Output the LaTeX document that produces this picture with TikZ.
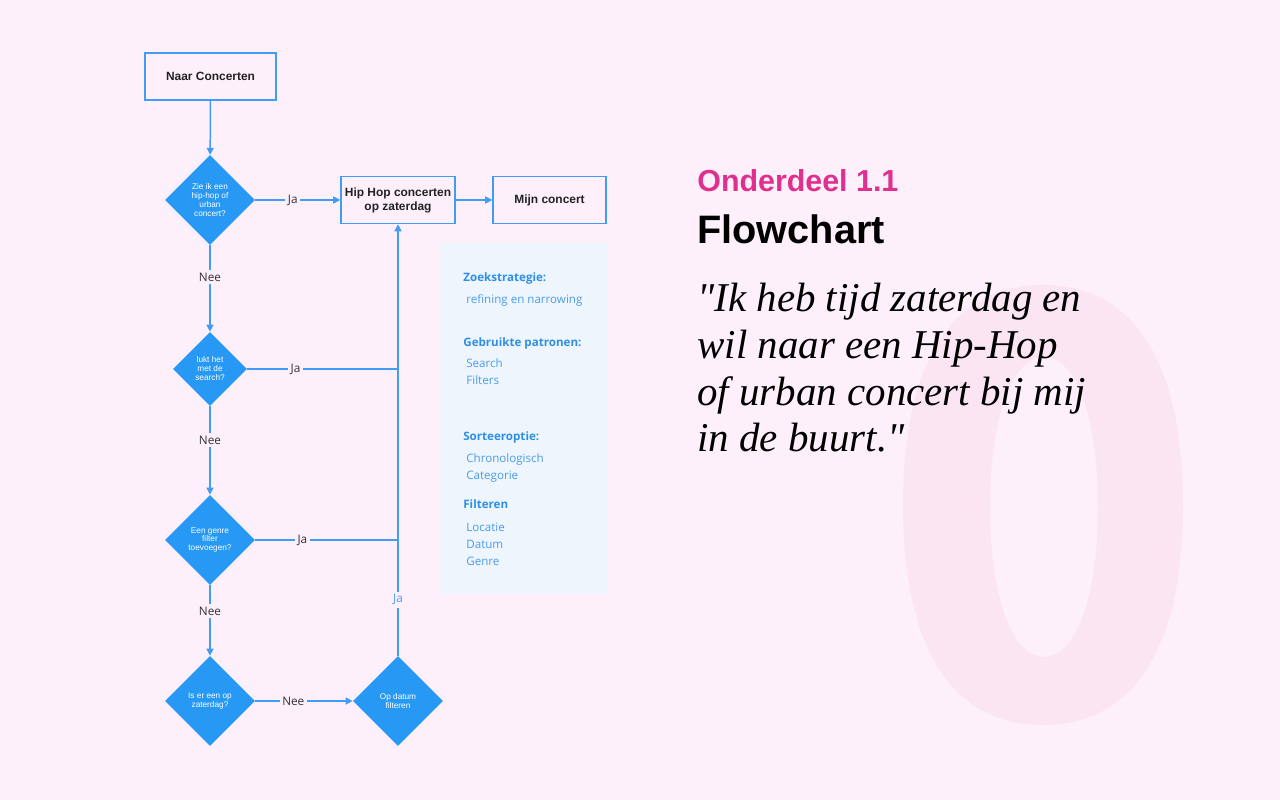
\documentclass[tikz,border=0pt]{standalone}
\usepackage{fontspec}
\setmainfont{Liberation Sans}
\newfontfamily\osans{Open Sans}
\newfontfamily\qfont{Liberation Serif}
\usetikzlibrary{shapes.geometric,arrows.meta}
\definecolor{bg}{HTML}{FDF0FA}
\definecolor{zerocol}{HTML}{FCE5F2}
\definecolor{linecol}{HTML}{409CF5}
\definecolor{diacol}{HTML}{2898F5}
\definecolor{panelcol}{HTML}{EEF5FD}
\definecolor{headcol}{HTML}{2C8FE8}
\definecolor{itemcol}{HTML}{4A9DEB}
\definecolor{magcol}{HTML}{E0308F}
\definecolor{lblcol}{HTML}{333333}
\definecolor{boxtext}{HTML}{222222}
\begin{document}
\begin{tikzpicture}[x=0.02cm,y=-0.02cm,
  boxnode/.style={draw=linecol,line width=0.85pt,rectangle,minimum width=2.62cm,minimum height=0.94cm,inner sep=0pt,align=center,text=boxtext,font=\bfseries\fontsize{6.8}{8}\selectfont},
  dianode/.style={diamond,fill=diacol,aspect=1,inner sep=0pt,align=center,text=white,font=\fontsize{4.7}{5.1}\selectfont},
  conn/.style={draw=linecol,line width=0.85pt},
  arr/.style={conn,-{Triangle[length=4pt,width=4pt]}},
  lbl/.style={fill=bg,inner sep=1.5pt,text=lblcol,font=\osans\fontsize{6.7}{7}\selectfont},
  phead/.style={anchor=mid west,inner sep=0pt,text=headcol,font=\osans\bfseries\fontsize{6.6}{7}\selectfont},
  pitem/.style={anchor=mid west,inner sep=0pt,text=itemcol,font=\osans\fontsize{6.6}{7}\selectfont},
  quote/.style={anchor=base west,inner sep=0pt,text=black,font=\qfont\itshape\fontsize{23.3}{26}\selectfont}
]
\fill[bg] (0,0) rectangle (1280,800);
\useasboundingbox (0,0) rectangle (1280,800);

% big background zero
\fill[zerocol,even odd rule]
  (1043,285) .. controls (1134,285) and (1183,362) .. (1183,505)
  .. controls (1183,648) and (1134,725) .. (1043,725)
  .. controls (952,725) and (903,648) .. (903,505)
  .. controls (903,362) and (952,285) .. (1043,285) -- cycle
  (1044,357) .. controls (1076,357) and (1098,417) .. (1098,507)
  .. controls (1098,597) and (1076,657) .. (1044,657)
  .. controls (1012,657) and (990,597) .. (990,507)
  .. controls (990,417) and (1012,357) .. (1044,357) -- cycle;

% info panel
\fill[panelcol] (440,243) rectangle (608,594);
\node[phead] (h1) at (463,277) {Zoekstrategie:};
\node[pitem] (i1) at (466,299) {refining en narrowing};
\node[phead] (h2) at (463,342) {Gebruikte patronen:};
\node[pitem] (i2) at (466,363) {Search};
\node[pitem] (i3) at (466,380) {Filters};
\node[phead] (h3) at (463,436) {Sorteeroptie:};
\node[pitem] (i4) at (466,458) {Chronologisch};
\node[pitem] (i5) at (466,475) {Categorie};
\node[phead] (h4) at (463,504) {Filteren};
\node[pitem] (i6) at (466,527) {Locatie};
\node[pitem] (i7) at (466,544) {Datum};
\node[pitem] (i8) at (466,561) {Genre};

% flowchart nodes
\node[boxnode] (start) at (210.5,76.5) {Naar Concerten};
\node[dianode,minimum width=1.8cm,minimum height=1.8cm] (d1) at (210,200) {Zie ik een\\hip-hop of\\urban\\concert?};
\node[boxnode,minimum width=2.28cm] (hh) at (398,200) {Hip Hop concerten\\op zaterdag};
\node[boxnode,minimum width=2.26cm] (mijn) at (549.5,200) {Mijn concert};
\node[dianode,minimum width=1.48cm,minimum height=1.48cm] (d2) at (210,369) {lukt het\\met de\\search?};
\node[dianode,minimum width=1.8cm,minimum height=1.8cm] (d3) at (210,540) {Een genre\\filter\\toevoegen?};
\node[dianode,minimum width=1.8cm,minimum height=1.8cm] (d4) at (210,701) {Is er een op\\zaterdag?};
\node[dianode,minimum width=1.8cm,minimum height=1.8cm] (d5) at (398,701) {Op datum\\filteren};

% connectors
\draw[arr] (start) -- (d1);
\draw[arr] (d1) -- node[lbl,pos=0.44] {Ja} (hh);
\draw[arr] (hh) -- (mijn);
\draw[arr] (d1) -- node[lbl,pos=0.37] {Nee} (d2);
\draw[arr] (d2) -- node[lbl,pos=0.38] {Nee} (d3);
\draw[arr] (d3) -- node[lbl,pos=0.37] {Nee} (d4);
\draw[arr] (d4) -- node[lbl,pos=0.39] {Nee} (d5);
\coordinate (j2) at (d2.east -| hh.south);
\coordinate (j3) at (d3.east -| hh.south);
\draw[conn] (d2.east) -- node[lbl,pos=0.32] {Ja} (j2);
\draw[conn] (d3.east) -- node[lbl,pos=0.33] {Ja} (j3);
\draw[arr] (d5.north) -- node[lbl,pos=0.13,text=itemcol] {Ja} (hh.south);

% titles
\node[anchor=base west,inner sep=0pt,text=magcol,font=\bfseries\fontsize{17.3}{20}\selectfont] (t1) at (697,192) {Onderdeel 1.1};
\node[anchor=base west,inner sep=0pt,text=black,font=\bfseries\fontsize{22.6}{26}\selectfont] (t2) at (697,244) {Flowchart};
\node[quote] (q1) at (697,312) {"Ik heb tijd zaterdag en};
\node[quote] (q2) at (697,358) {wil naar een Hip-Hop};
\node[quote] (q3) at (697,405) {of urban concert bij mij};
\node[quote] (q4) at (697,451) {in de buurt."};
\end{tikzpicture}
\end{document}
